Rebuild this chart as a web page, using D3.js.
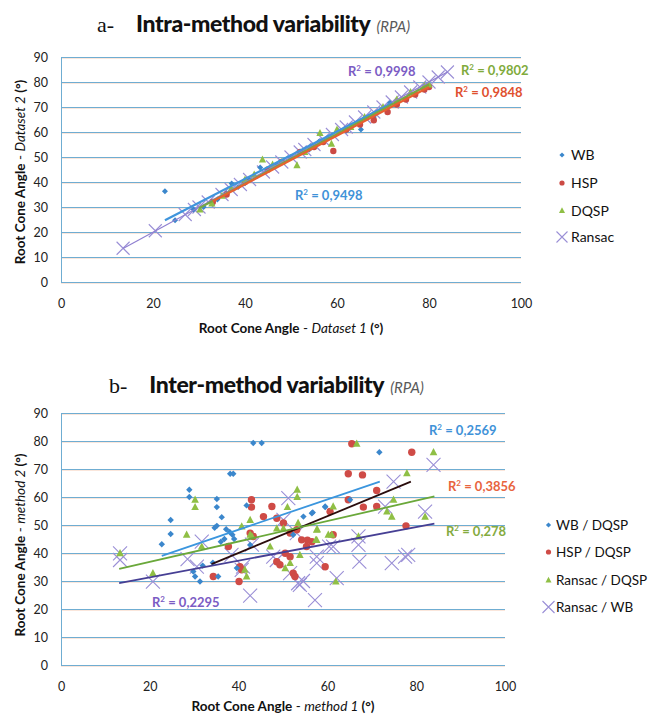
<!DOCTYPE html>
<html><head><meta charset="utf-8">
<script src="https://cdn.jsdelivr.net/npm/d3@7"></script>
<style>
body{margin:0;background:#fff;}
svg{display:block;font-family:Lato, "Open Sans", sans-serif;}
</style></head>
<body><svg id="c" width="649" height="720"></svg>
<script>
// ---------- DATA: chart a (intra-method) ----------
const xTicks = [0,20,40,60,80,100];
const yTicks = [0,10,20,30,40,50,60,70,80,90];
const seriesA = ["WB","HSP","DQSP","Ransac"];
const wbA = [[22.6,36.3],[24.8,24.7],[28.8,29],[31,30],[34,33],[36,35.5],[37.1,39.4],[38.5,38],[40,39.5],[41,41],[43.3,45.8],[47,47],[50,50],[52,52],[54,53],[56,56],[58,57.5],[62,60.5],[65.2,61],[68,66],[70,69.5],[71.5,71.6]];
const hspA = [[33,32],[36,35],[40,40],[45,45],[48,48],[52,52],[55,54],[57,56],[59.2,52.4],[62,61],[65,63],[68,64.7],[71,68],[73,71],[75,73],[77,75],[79,77],[80,78]];
const dqspA = [[30.2,29],[32.8,31.4],[35,34.5],[37,37.5],[40,41],[42,43],[43.8,49],[46,47],[48,48],[51.3,46.7],[53,52],[56.3,59.6],[58.8,55.3],[60,61],[63,62],[66,66],[70,70],[73,73],[76,76],[79,78.5],[80,79]];
const ransacA = [[13.5,13.5],[20.5,20.5],[27,27],[29,29],[30,30],[32,32],[35,35],[37,37],[39,39],[41,41],[44,44],[46,46],[48,48],[50,50],[52,52],[53,53],[55,55],[57,57],[59,59],[61,61],[62,62],[64,64],[66,66],[68,68],[70,70],[72,72],[74,74],[76,76],[78,78],[80,80],[82,82],[84,84]];
const trendA = {WB:[[22.6,24.7],[72,71.6]], HSP:[[33,32.3],[80,78]], DQSP:[[30,29.5],[80,79]], Ransac:[[13.5,13.4],[84,84]]};
const r2A = {WB:"0,9498", HSP:"0,9848", DQSP:"0,9802", Ransac:"0,9998"};

// ---------- DATA: chart b (inter-method) ----------
const seriesB = ["WB / DQSP","HSP / DQSP","Ransac / DQSP","Ransac / WB"];
const wbB = [[43.3,79.3],[45.2,79.3],[38.1,68.3],[38.8,68.3],[28.9,62.6],[28.9,60],[35.1,59.3],[35.1,56.4],[36.2,52.8],[41.8,57],[24.7,51.8],[24.7,46.8],[22.7,43.1],[35.1,49.7],[34.6,49],[37.2,48.5],[38,47.5],[38.6,46.5],[39,45],[36.8,45],[36,44],[31.9,35.5],[29.8,33.4],[30.2,31.6],[31.3,29.8],[34.2,36.5],[35.4,31.6],[39.6,34.6],[42.6,42.9],[52.3,46.5],[54.6,53],[56.5,54.2],[59.5,56.6],[56.7,54.5],[59.5,56.4],[65.1,59],[71.7,76]];
const hspB = [[42.9,59],[42.9,56.4],[47.5,56.6],[45.6,53],[48.6,52.4],[50.1,50.7],[51.6,47.1],[53.1,48.3],[54.2,44.7],[55.3,42.3],[37.7,42.3],[40.3,35.1],[40.7,34],[40.1,29.8],[34.3,31.6],[48.6,36.9],[49.3,35.8],[50.5,39.9],[51.6,38.7],[52.3,32.8],[52.7,31.6],[42.6,47.1],[43.3,45.9],[59.5,35.1],[65.5,79],[79,76],[64.7,68.3],[67.9,67.9],[71.1,62.3],[64.7,59],[68.1,56.4],[71.1,56.6],[60.6,54.8],[61.3,46.5],[77.7,49.7],[55.5,44.6],[56.5,44]];
const ransacDqspB = [[13.3,39.9],[20.7,32.8],[28.3,46.5],[30.2,59],[30.2,56.4],[31.7,42.3],[40.7,49.5],[42.6,51.8],[42.6,46.5],[43,46],[41.4,34],[41.8,31.6],[47.1,42.3],[48.6,48.8],[50.1,48.8],[51,56.4],[53.2,62.6],[53.2,60],[53.4,50.7],[51.6,36.4],[50.5,34.6],[53.8,39.3],[57.6,48.3],[57.6,44.7],[60.2,46.5],[66.6,79],[83.9,76],[77.9,68.5],[61.3,56.6],[74.9,59],[73.4,54.8],[74.5,53],[82,53],[57.7,48.5],[57.4,44.7],[61,46.5],[61.9,29.8],[67,45.9]];
const ransacWbB = [[13.3,39.9],[13.3,37.5],[20.7,29.8],[28.5,37.8],[31.7,44.1],[30.6,35.1],[42.6,24.8],[41,35.1],[40.7,34],[38.4,39.3],[43,43],[51.2,59.6],[50.1,51.8],[47.8,38.7],[48.6,37.5],[51.6,32.8],[53.4,29.2],[53.8,28.6],[53.1,47.1],[57.2,23.2],[57.6,38.7],[57.6,36.4],[60.4,42.3],[83.9,71.5],[74.9,65.5],[73,56.6],[82,54.8],[67,45.9],[67,42.9],[67.2,36.9],[74.5,36.4],[77.5,38.7],[78.2,39.3],[61.3,42.3],[62.1,31],[54.5,30]];
const trendB = {"WB / DQSP":[[22.7,39],[71.8,65.5]], "HSP / DQSP":[[33.9,36],[78.8,65.5]], "Ransac / DQSP":[[13.1,34.3],[84.1,60.2]], "Ransac / WB":[[13.1,29.2],[84.1,50.5]]};
const r2B = {"WB / DQSP":"0,2569", "HSP / DQSP":"0,3856", "Ransac / DQSP":"0,278", "Ransac / WB":"0,2295"};

// ---------- DRAW ----------
const svg = d3.select("#c");
const gridCol = "#6fadd2", shadowCol = "#f3c2a6";

function panel(cfg){
  const x = d3.scaleLinear().domain([0,100]).range([cfg.x0, cfg.x1]);
  const y = d3.scaleLinear().domain([0,90]).range([cfg.y0, cfg.y1]);
  const g = svg.append("g");
  g.selectAll(".sh").data(yTicks).join("line")
    .attr("x1",cfg.x0).attr("x2",cfg.x1).attr("y1",d=>y(d)+1.5).attr("y2",d=>y(d)+1.5)
    .attr("stroke",shadowCol).attr("stroke-width",1).attr("opacity",0.4);
  g.selectAll(".gl").data(yTicks).join("line")
    .attr("x1",cfg.x0).attr("x2",cfg.x1).attr("y1",d=>y(d)+0.5).attr("y2",d=>y(d)+0.5)
    .attr("stroke",gridCol).attr("stroke-width",1);
  g.append("line").attr("x1",cfg.x0+0.5).attr("x2",cfg.x0+0.5).attr("y1",cfg.y1).attr("y2",cfg.y0)
    .attr("stroke",gridCol);
  const ax = d3.axisBottom(x).tickValues(xTicks).tickSize(0).tickPadding(17);
  const ay = d3.axisLeft(y).tickValues(yTicks).tickSize(0).tickPadding(13);
  const gx = g.append("g").attr("transform",`translate(0,${cfg.y0})`).call(ax);
  const gy = g.append("g").attr("transform",`translate(${cfg.x0},0)`).call(ay);
  [gx,gy].forEach(a=>{a.select(".domain").remove();
    a.selectAll("text").attr("font-family","Lato, sans-serif").attr("font-size",12.5).attr("fill","#222");});
  return {x,y,g};
}

function marker(g, type, cx, cy, col, s){
  if(type==="diamond"){
    g.append("path").attr("d",`M${cx},${cy-s}L${cx+s},${cy}L${cx},${cy+s}L${cx-s},${cy}Z`).attr("fill",col);
  } else if(type==="circle"){
    g.append("circle").attr("cx",cx).attr("cy",cy).attr("r",s).attr("fill",col);
  } else if(type==="tri"){
    g.append("path").attr("d",`M${cx},${cy-s*1.1}L${cx+s},${cy+s*0.8}L${cx-s},${cy+s*0.8}Z`).attr("fill",col);
  } else {
    g.append("path").attr("d",`M${cx-s},${cy-s}L${cx+s},${cy+s}M${cx-s},${cy+s}L${cx+s},${cy-s}`)
      .attr("stroke",col).attr("stroke-width",1.1).attr("fill","none");
  }
}

function title(x, y, letter, main){
  const t = svg.append("text").attr("x",x).attr("y",y);
  t.append("tspan").text(letter).attr("font-family","'Liberation Serif', serif").attr("font-size",22).attr("fill","#111");
  t.append("tspan").attr("dx",22).text(main).attr("font-family","Lato, sans-serif").attr("font-weight","900").attr("font-size",23).attr("fill","#111").attr("letter-spacing",-0.4);
  t.append("tspan").attr("dx",6).text("(RPA)").attr("font-family","Lato, sans-serif").attr("font-style","italic").attr("font-size",15).attr("fill","#5a5a5a");
}

function axisTitles(cfg, xw, yw){
  const tx = svg.append("text").attr("x",(cfg.x0+cfg.x1)/2).attr("y",cfg.xty).attr("text-anchor","middle")
    .attr("font-size",13.5).attr("fill","#111");
  tx.append("tspan").text("Root Cone Angle").attr("font-weight","bold");
  tx.append("tspan").text(" - ");
  tx.append("tspan").text(xw).attr("font-style","italic");
  tx.append("tspan").text(" (°)").attr("font-weight","bold");
  const ty = svg.append("text").attr("transform",`translate(${cfg.ytx},${cfg.ytc}) rotate(-90)`).attr("text-anchor","middle")
    .attr("font-size",13.5).attr("fill","#111");
  ty.append("tspan").text("Root Cone Angle").attr("font-weight","bold");
  ty.append("tspan").text(" - ");
  ty.append("tspan").text(yw).attr("font-style","italic");
  ty.append("tspan").text(" (°)").attr("font-weight","bold");
}

function r2Label(x, y, txt, col){
  const t = svg.append("text").attr("x",x).attr("y",y).attr("font-weight","bold").attr("font-size",13).attr("fill",col);
  t.append("tspan").text("R");
  t.append("tspan").text("2").attr("font-size",8).attr("dy",-5);
  t.append("tspan").text(" = " + txt).attr("dy",5);
}

const line = (sx,sy)=>d3.line().x(d=>sx(d[0])).y(d=>sy(d[1]));

// ---- Panel a ----
title(97, 32, "a-", "Intra-method variability");
const cfgA = {x0:61, x1:521, y0:282, y1:57, xty:333, ytx:25, ytc:172};
const A = panel(cfgA);
axisTitles(cfgA, "Dataset 1", "Dataset 2");
const colA = {WB:"#3b87cc", HSP:"#cc4a44", DQSP:"#8fbf45", Ransac:"#9a8fd6"};
const lineColA = {WB:"#3f95dc", HSP:"#e8602f", DQSP:"#76a844", Ransac:"#8f7fd0"};
const lwA = {WB:2.2, HSP:2.2, DQSP:2, Ransac:1.2};
const typesA = {WB:"diamond", HSP:"circle", DQSP:"tri", Ransac:"x"};
const sizeA = {WB:3, HSP:3.2, DQSP:3.6, Ransac:6.5};
const dataA = {WB:wbA, HSP:hspA, DQSP:dqspA, Ransac:ransacA};
const mA = A.g.append("g");
["Ransac","WB","HSP","DQSP"].forEach(s=>{
  dataA[s].forEach(d=>marker(mA, typesA[s], A.x(d[0]), A.y(d[1]), colA[s], sizeA[s]));
});
["Ransac","WB","DQSP","HSP"].forEach(s=>{
  A.g.append("path").attr("d",line(A.x,A.y)(trendA[s])).attr("stroke",lineColA[s]).attr("stroke-width",lwA[s]).attr("fill","none");
});
const r2ColA = {WB:"#3f92d8", HSP:"#e0502e", DQSP:"#80ab3c", Ransac:"#7b5cc4"};
const r2PosA = {WB:[295,200], HSP:[455,97], DQSP:[461,75], Ransac:[348,76]};
seriesA.forEach(s=>r2Label(r2PosA[s][0], r2PosA[s][1], r2A[s], r2ColA[s]));
const legA = svg.append("g");
seriesA.forEach((s,i)=>{
  const ly = [155,183,210.5,237][i];
  marker(legA, typesA[s], 562, ly, colA[s], s==="Ransac"?5.5:(s==="DQSP"?3:2.6));
  legA.append("text").attr("x",571).attr("y",ly+5).text(s).attr("font-size",14).attr("fill","#111");
});

// ---- Panel b ----
title(109, 393, "b-", "Inter-method variability");
const cfgB = {x0:61, x1:505, y0:665, y1:413, xty:711, ytx:25, ytc:545};
const B = panel(cfgB);
axisTitles(cfgB, "method 1", "method 2");
const colB = {"WB / DQSP":"#3b87cc", "HSP / DQSP":"#cf4b46", "Ransac / DQSP":"#8fbf45", "Ransac / WB":"#9a8fd6"};
const lineColB = {"WB / DQSP":"#3b96de", "HSP / DQSP":"#2a0c0c", "Ransac / DQSP":"#6aa83a", "Ransac / WB":"#463f94"};
const typesB = {"WB / DQSP":"diamond", "HSP / DQSP":"circle", "Ransac / DQSP":"tri", "Ransac / WB":"x"};
const sizeB = {"WB / DQSP":3.2, "HSP / DQSP":3.7, "Ransac / DQSP":3.8, "Ransac / WB":7};
const dataB = {"WB / DQSP":wbB, "HSP / DQSP":hspB, "Ransac / DQSP":ransacDqspB, "Ransac / WB":ransacWbB};
const mB = B.g.append("g");
["Ransac / WB","HSP / DQSP","WB / DQSP","Ransac / DQSP"].forEach(s=>{
  dataB[s].forEach(d=>marker(mB, typesB[s], B.x(d[0]), B.y(d[1]), colB[s], sizeB[s]));
});
seriesB.forEach(s=>{
  B.g.append("path").attr("d",line(B.x,B.y)(trendB[s])).attr("stroke",lineColB[s]).attr("stroke-width",1.8).attr("fill","none");
});
const r2ColB = {"WB / DQSP":"#3f92d8", "HSP / DQSP":"#e8643e", "Ransac / DQSP":"#84ab3e", "Ransac / WB":"#7b5cc4"};
const r2PosB = {"WB / DQSP":[429,435], "HSP / DQSP":[448,491], "Ransac / DQSP":[446,536], "Ransac / WB":[152,607]};
seriesB.forEach(s=>r2Label(r2PosB[s][0], r2PosB[s][1], r2B[s], r2ColB[s]));
const legB = svg.append("g");
seriesB.forEach((s,i)=>{
  const ly = [525,552,580,607][i];
  marker(legB, typesB[s], 548.5, ly, colB[s], s==="Ransac / WB"?6:(s==="Ransac / DQSP"?3:2.6));
  legB.append("text").attr("x",556).attr("y",ly+5).text(s).attr("font-size",13.5).attr("fill","#111");
});
</script></body></html>
